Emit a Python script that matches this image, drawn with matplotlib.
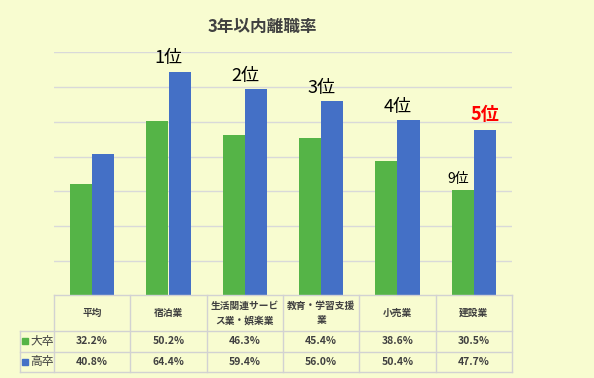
import matplotlib.pyplot as plt
import numpy as np

plt.rcParams['font.family'] = ['Noto Sans CJK JP', 'DejaVu Sans']

# データ
categories = ["平均", "宿泊業", "生活関連サービ\nス業・娯楽業", "教育・学習支援\n業", "小売業", "建設業"]
series_names = ["大卒", "高卒"]
daisotsu = [32.2, 50.2, 46.3, 45.4, 38.6, 30.5]
kousotsu = [40.8, 64.4, 59.4, 56.0, 50.4, 47.7]
rank_labels = ["", "1位", "2位", "3位", "4位", "5位"]

BG = "#F8FCD0"
GREEN = "#55B447"
BLUE = "#4470C6"
GRID = "#D9D9D9"
TEXT = "#404040"

W, H = 594, 378
fig = plt.figure(figsize=(W / 100, H / 100), dpi=100)
fig.patch.set_facecolor(BG)

# グラフ部分 (ピクセル座標から配置)
left, right, top, bottom = 54, 512, 52, 296
ax = fig.add_axes([left / W, 1 - bottom / H, (right - left) / W, (bottom - top) / H])
ax.set_facecolor(BG)
x = np.arange(len(categories))
bw = 0.29
ax.bar(x - bw / 2, daisotsu, bw, color=GREEN)
ax.bar(x + bw / 2, kousotsu, bw, color=BLUE)
ax.set_xlim(-0.5, len(categories) - 0.5)
ax.set_ylim(0, 70)
ax.set_yticks(np.arange(10, 71, 10))
ax.yaxis.grid(True, color=GRID, linewidth=1)
ax.set_axisbelow(True)
ax.tick_params(left=False, bottom=False, labelleft=False, labelbottom=False)
for s in ax.spines.values():
    s.set_visible(False)

# 順位ラベル
for i, lab in enumerate(rank_labels):
    if not lab:
        continue
    if i == len(rank_labels) - 1:
        ax.annotate(lab, (x[i] + bw * 0.5, kousotsu[i]), xytext=(0, 4),
                    textcoords="offset points", ha="center", va="bottom",
                    fontsize=13, color="red", fontweight="bold")
    else:
        ax.annotate(lab, (x[i], kousotsu[i]), xytext=(0, 3),
                    textcoords="offset points", ha="center", va="bottom",
                    fontsize=13, color="black")
ax.annotate("9位", (x[-1] - bw / 2, daisotsu[-1]), xytext=(-3, 3),
            textcoords="offset points", ha="center", va="bottom",
            fontsize=10, color="black")

fig.text(262 / W, 1 - 27 / H, "3年以内離職率", ha="center", va="center",
         fontsize=12, fontweight="bold", color=TEXT)

# データテーブル
tleft, ttop, tbottom = 20, 295, 372
lab_w = (left - tleft) / ((right - left) / len(categories))
tax = fig.add_axes([tleft / W, 1 - tbottom / H, (right - tleft) / W, (tbottom - ttop) / H])
tax.set_xlim(-0.5 - lab_w, len(categories) - 0.5)
row_edges = [0, 36, 57, 77]  # 上から(px)
tax.set_ylim(row_edges[-1], 0)
tax.axis("off")
lc = "#D2D2D2"
xl = -0.5 - lab_w
tax.plot([-0.5, len(categories) - 0.5], [0, 0], color=lc, lw=1, clip_on=False)
for r in row_edges[1:]:
    tax.plot([xl, len(categories) - 0.5], [r, r], color=lc, lw=1, clip_on=False)
tax.plot([xl, xl], [row_edges[1], row_edges[-1]], color=lc, lw=1, clip_on=False)
for k in range(len(categories) + 1):
    tax.plot([k - 0.5, k - 0.5], [0, row_edges[-1]], color=lc, lw=1, clip_on=False)

for i, c in enumerate(categories):
    tax.text(i, row_edges[1] / 2, c, ha="center", va="center", fontsize=7,
             color=TEXT, linespacing=1.6, fontweight="bold")
for r, (name, vals, col) in enumerate(zip(series_names, [daisotsu, kousotsu], [GREEN, BLUE])):
    yc = (row_edges[r + 1] + row_edges[r + 2]) / 2
    tax.plot(xl + 0.07, yc - 0.5, marker="s", ms=4, color=col, clip_on=False)
    tax.text(xl + 0.14, yc, name, ha="left", va="center", fontsize=8.5, color=TEXT)
    for i, v in enumerate(vals):
        tax.text(i, yc, f"{v:.1f}%", ha="center", va="center", fontsize=7.5,
                 color=TEXT, fontweight="bold")

fig.savefig("out.png", dpi=100, facecolor=BG)
